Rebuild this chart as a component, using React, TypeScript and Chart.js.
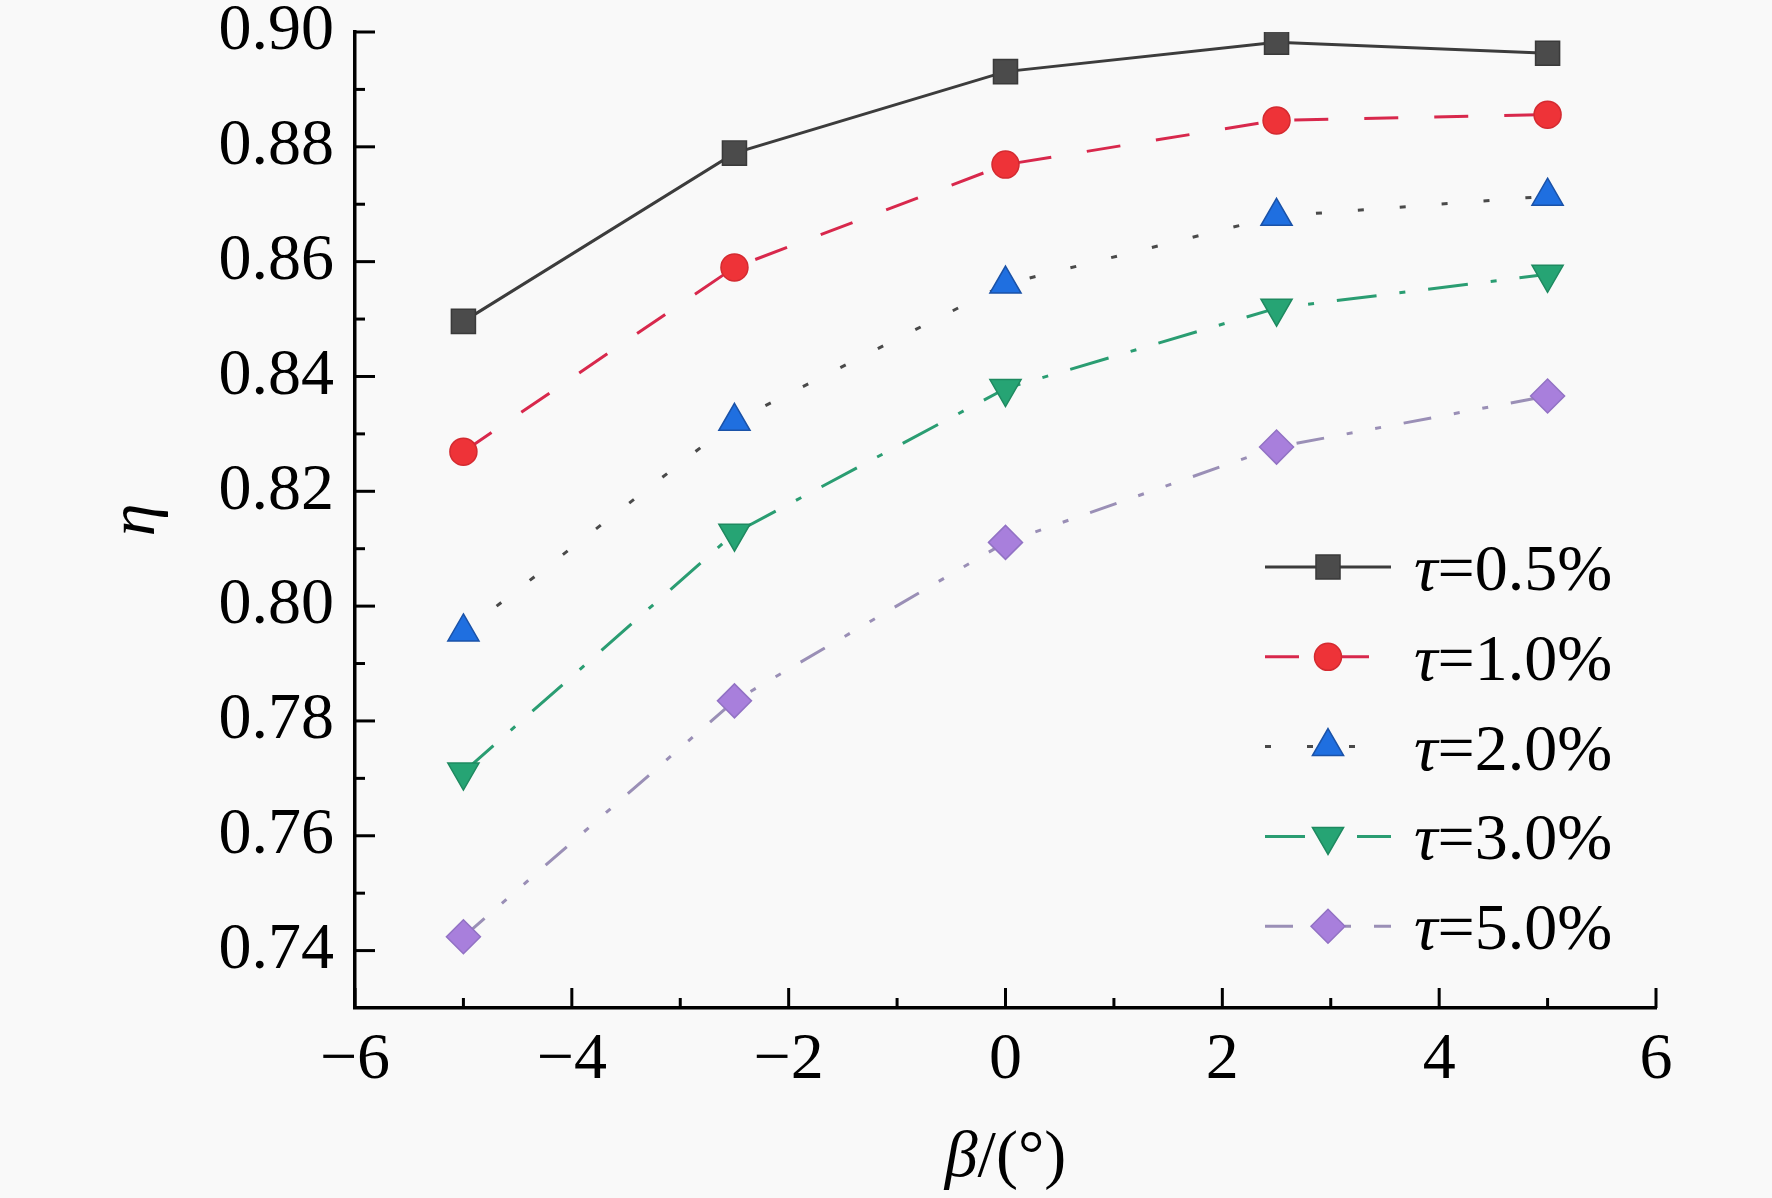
import { useEffect, useRef } from "react"
import { Chart, registerables, type Plugin } from "chart.js"
import { drawPoint } from "chart.js/helpers"

// Register Chart.js components
Chart.register(...registerables)

const betaValues = [-5, -2.5, 0, 2.5, 5]
const tauLabels = ["0.5%", "1.0%", "2.0%", "3.0%", "5.0%"]
const eta05 = [0.8496, 0.8789, 0.8931, 0.8982, 0.8963]
const eta10 = [0.8269, 0.859, 0.8769, 0.8846, 0.8856]
const eta20 = [0.7955, 0.8322, 0.8561, 0.8679, 0.8714]
const eta30 = [0.7711, 0.8127, 0.8379, 0.8519, 0.8578]
const eta50 = [0.7424, 0.7835, 0.8111, 0.8277, 0.8366]

const xMajorTicks = [-6, -4, -2, 0, 2, 4, 6]
const xMinorTicks = [-5, -3, -1, 1, 3, 5]
const yMajorTicks = [0.74, 0.76, 0.78, 0.8, 0.82, 0.84, 0.86, 0.88, 0.9]
const yMinorTicks = [0.75, 0.77, 0.79, 0.81, 0.83, 0.85, 0.87, 0.89]

const SERIF = "'Liberation Serif', 'Times New Roman', serif"
const FONT_PX = 66
const W = 1772
const H = 1198

const toPoints = (ys: number[]) => betaValues.map((x, i) => ({ x, y: ys[i] }))

// stop the scales from pushing the plot area around for half-labels
const noPad = (scale: any) => {
  scale.paddingTop = 0
  scale.paddingBottom = 0
  scale.paddingLeft = 0
  scale.paddingRight = 0
}

// inward ticks, axis titles and the line+marker legend
const decorPlugin: Plugin<"line"> = {
  id: "decor",
  afterDraw(chart) {
    const { ctx, chartArea, scales } = chart
    const xs = scales.x
    const ys = scales.y
    ctx.save()
    ctx.strokeStyle = "#000"
    ctx.lineWidth = 3
    ctx.setLineDash([])
    const seg = (x1: number, y1: number, x2: number, y2: number) => {
      ctx.beginPath()
      ctx.moveTo(x1, y1)
      ctx.lineTo(x2, y2)
      ctx.stroke()
    }
    yMajorTicks.forEach((v) => {
      const py = ys.getPixelForValue(v)
      seg(chartArea.left, py, chartArea.left + 20, py)
    })
    yMinorTicks.forEach((v) => {
      const py = ys.getPixelForValue(v)
      seg(chartArea.left, py, chartArea.left + 10, py)
    })
    xMajorTicks.forEach((v) => {
      const px = xs.getPixelForValue(v)
      seg(px, chartArea.bottom, px, chartArea.bottom - 20)
    })
    xMinorTicks.forEach((v) => {
      const px = xs.getPixelForValue(v)
      seg(px, chartArea.bottom, px, chartArea.bottom - 10)
    })

    ctx.fillStyle = "#000"
    ctx.textBaseline = "alphabetic"
    ctx.textAlign = "left"

    // x title: β/(°)
    const italic = `italic ${FONT_PX}px ${SERIF}`
    const upright = `${FONT_PX}px ${SERIF}`
    ctx.font = italic
    const wb = ctx.measureText("β").width
    ctx.font = upright
    const wr = ctx.measureText("/(°)").width
    const cx = (chartArea.left + chartArea.right) / 2
    let sx = cx - (wb + wr) / 2
    ctx.font = italic
    ctx.fillText("β", sx, 1176)
    sx += wb
    ctx.font = upright
    ctx.fillText("/(°)", sx, 1176)

    // y title: η
    ctx.save()
    ctx.translate(154, (chartArea.top + chartArea.bottom) / 2)
    ctx.rotate(-Math.PI / 2)
    ctx.textAlign = "center"
    ctx.font = italic
    ctx.fillText("η", 0, 0)
    ctx.restore()

    // legend
    chart.data.datasets.forEach((ds: any, i: number) => {
      const rowY = 567 + i * 89.8
      ctx.save()
      ctx.strokeStyle = ds.borderColor
      ctx.lineWidth = ds.borderWidth
      ctx.setLineDash(ds.borderDash || [])
      seg(1265, rowY, 1391, rowY)
      ctx.setLineDash([])
      ctx.fillStyle = ds.pointBackgroundColor
      ctx.strokeStyle = ds.pointBorderColor
      ctx.lineWidth = ds.pointBorderWidth
      drawPoint(
        ctx,
        {
          pointStyle: ds.pointStyle,
          rotation: ds.pointRotation || 0,
          radius: ds.pointRadius,
          borderWidth: ds.pointBorderWidth,
        },
        1328,
        rowY
      )
      ctx.restore()
      ctx.fillStyle = "#000"
      ctx.textAlign = "left"
      ctx.font = italic
      const wt = ctx.measureText("τ").width
      ctx.fillText("τ", 1414, rowY + 23)
      ctx.font = upright
      ctx.fillText("=" + tauLabels[i], 1414 + wt, rowY + 23)
    })
    ctx.restore()
  },
}

const bgPlugin: Plugin<"line"> = {
  id: "bg",
  beforeDraw(chart) {
    const { ctx } = chart
    ctx.save()
    ctx.fillStyle = "#f9f9f9"
    ctx.fillRect(0, 0, chart.width, chart.height)
    ctx.restore()
  },
}

export default function App() {
  const canvasRef = useRef<HTMLCanvasElement>(null)
  const chartRef = useRef<Chart | null>(null)

  useEffect(() => {
    if (!canvasRef.current) return
    if (chartRef.current) chartRef.current.destroy()
    const ctx = canvasRef.current.getContext("2d")
    if (!ctx) return

    Chart.defaults.font.family = SERIF
    Chart.defaults.color = "#000"

    const common = { borderWidth: 3, pointBorderWidth: 1.5, fill: false, tension: 0 }

    chartRef.current = new Chart(ctx, {
      type: "line",
      data: {
        datasets: [
          {
            ...common,
            label: "τ=" + tauLabels[0],
            data: toPoints(eta05),
            borderColor: "#3c3c3c",
            pointStyle: "rect",
            pointRadius: 17,
            pointBackgroundColor: "#4b4b4b",
            pointBorderColor: "#3a3a3a",
          },
          {
            ...common,
            label: "τ=" + tauLabels[1],
            data: toPoints(eta10),
            borderColor: "#d8284c",
            borderDash: [34, 36],
            pointStyle: "circle",
            pointRadius: 13.5,
            pointBackgroundColor: "#ee3338",
            pointBorderColor: "#d42a30",
          },
          {
            ...common,
            label: "τ=" + tauLabels[2],
            data: toPoints(eta20),
            borderColor: "#4a4a4a",
            borderDash: [6, 36],
            pointStyle: "triangle",
            pointRadius: 18,
            pointBackgroundColor: "#1f6fe0",
            pointBorderColor: "#1a52a8",
          },
          {
            ...common,
            label: "τ=" + tauLabels[3],
            data: toPoints(eta30),
            borderColor: "#2a9d72",
            borderDash: [40, 23, 6, 23],
            pointStyle: "triangle",
            pointRotation: 180,
            pointRadius: 18,
            pointBackgroundColor: "#26a474",
            pointBorderColor: "#1e8a60",
          },
          {
            ...common,
            label: "τ=" + tauLabels[4],
            data: toPoints(eta50),
            borderColor: "#9a8fb6",
            borderDash: [28, 23, 6, 23, 6, 23],
            pointStyle: "rectRot",
            pointRadius: 17,
            pointBackgroundColor: "#a87fdc",
            pointBorderColor: "#9272c4",
          },
        ],
      },
      options: {
        responsive: false,
        animation: false,
        devicePixelRatio: 1,
        layout: {
          autoPadding: false,
          padding: { top: 32, right: 116, bottom: 0, left: 0 },
        },
        plugins: {
          legend: { display: false },
          tooltip: { enabled: false },
        },
        scales: {
          x: {
            type: "linear",
            min: -6,
            max: 6,
            afterFit: (scale) => {
              scale.height = 190
              noPad(scale)
            },
            afterBuildTicks: (scale) => {
              scale.ticks = xMajorTicks.map((value) => ({ value }))
            },
            grid: { display: false },
            border: { display: true, color: "#000", width: 3.5 },
            ticks: {
              autoSkip: false,
              maxRotation: 0,
              padding: 5,
              font: { size: FONT_PX, family: SERIF },
              color: "#000",
              callback: (value) => {
                const v = Number(value)
                return v < 0 ? "\u2212" + Math.abs(v) : String(v)
              },
            },
          },
          y: {
            type: "linear",
            min: 0.73,
            max: 0.9,
            afterFit: (scale) => {
              scale.width = 355
              noPad(scale)
            },
            afterBuildTicks: (scale) => {
              scale.ticks = yMajorTicks.map((value) => ({ value }))
            },
            grid: { display: false },
            border: { display: true, color: "#000", width: 3.5 },
            ticks: {
              autoSkip: false,
              padding: 13,
              font: { size: FONT_PX, family: SERIF },
              color: "#000",
              callback: (value) => Number(value).toFixed(2),
            },
          },
        },
      },
      plugins: [bgPlugin, decorPlugin],
    })

    return () => {
      if (chartRef.current) {
        chartRef.current.destroy()
        chartRef.current = null
      }
    }
  }, [])

  return (
    <div style={{ position: "absolute", left: 0, top: 0, width: W, height: H, background: "#f9f9f9" }}>
      <canvas ref={canvasRef} width={W} height={H} style={{ display: "block" }} />
    </div>
  )
}
